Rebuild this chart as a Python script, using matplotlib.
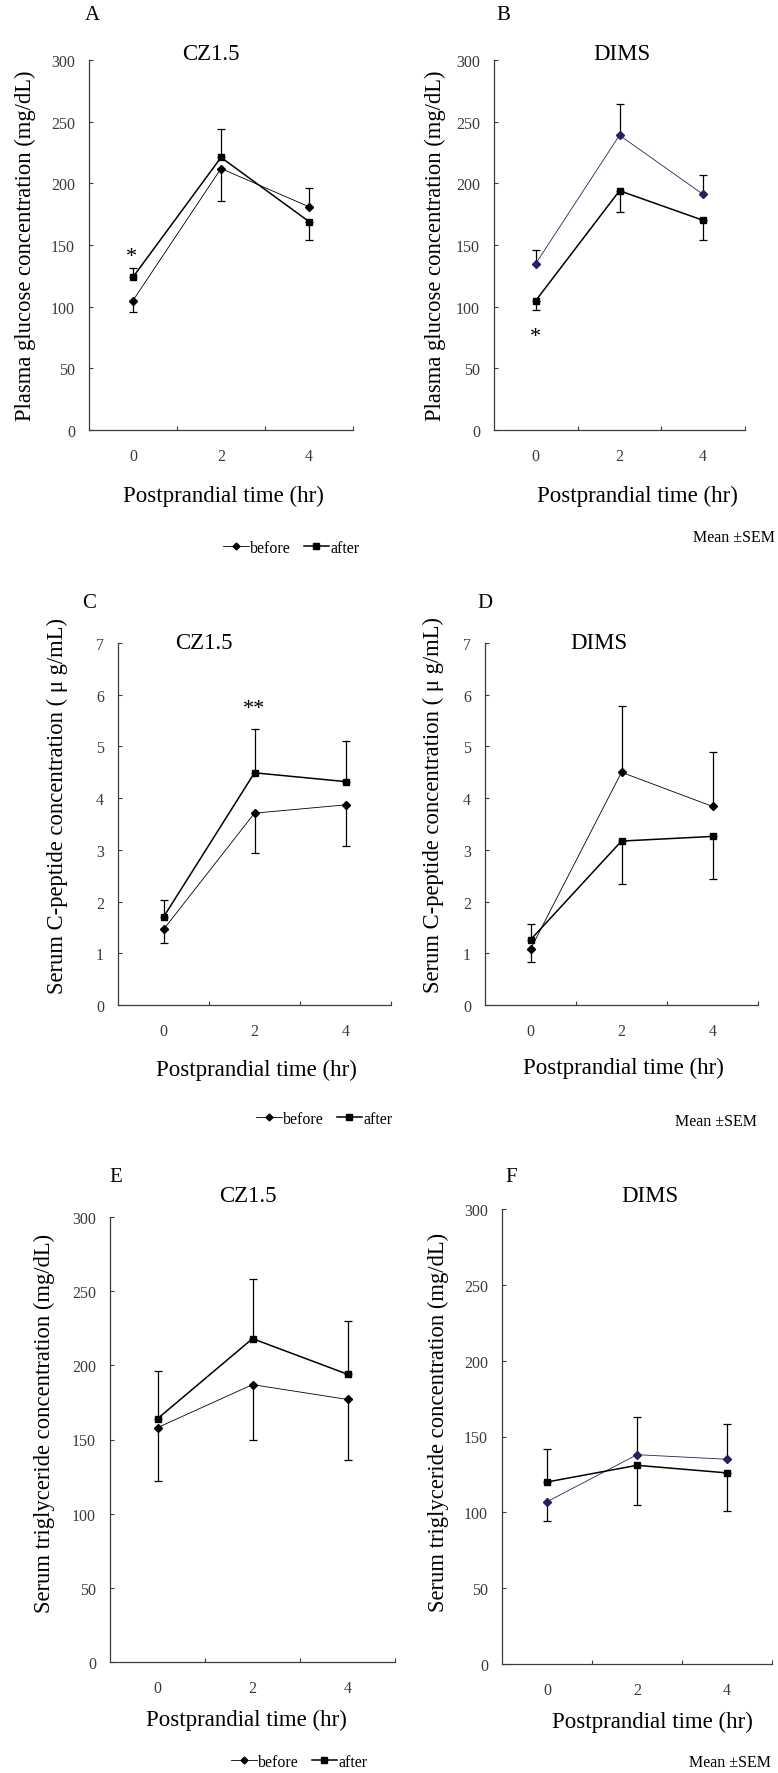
import numpy as np
import matplotlib
matplotlib.use("Agg")
import matplotlib.pyplot as plt
from matplotlib.lines import Line2D

plt.rcParams['font.family'] = ['Liberation Serif', 'DejaVu Serif']

W, H = 778, 1774

hours = ["0", "2", "4"]

# plasma glucose (mg/dL)
glu_cz_before = [105, 212, 181]
glu_cz_before_lo = [9, 26, 0]
glu_cz_before_up = [0, 0, 15]
glu_cz_after = [124, 221, 169]
glu_cz_after_lo = [0, 0, 15]
glu_cz_after_up = [7, 23, 0]

glu_dims_before = [135, 239, 191]
glu_dims_before_lo = [0, 0, 0]
glu_dims_before_up = [11, 25, 16]
glu_dims_after = [105, 194, 170]
glu_dims_after_lo = [8, 17, 16]
glu_dims_after_up = [0, 0, 0]

# serum C-peptide (ug/mL)
cpep_cz_before = [1.46, 3.71, 3.87]
cpep_cz_before_lo = [0.27, 0.78, 0.79]
cpep_cz_before_up = [0, 0, 0]
cpep_cz_after = [1.70, 4.49, 4.32]
cpep_cz_after_lo = [0, 0, 0]
cpep_cz_after_up = [0.33, 0.85, 0.78]

cpep_dims_before = [1.08, 4.50, 3.84]
cpep_dims_before_lo = [0.25, 0, 0]
cpep_dims_before_up = [0, 1.29, 1.06]
cpep_dims_after = [1.26, 3.17, 3.26]
cpep_dims_after_lo = [0, 0.83, 0.82]
cpep_dims_after_up = [0.31, 0, 0]

# serum triglyceride (mg/dL)
tg_cz_before = [158, 187, 177]
tg_cz_before_lo = [36, 37, 41]
tg_cz_before_up = [0, 0, 0]
tg_cz_after = [164, 218, 194]
tg_cz_after_lo = [0, 0, 0]
tg_cz_after_up = [32, 40, 36]

tg_dims_before = [107, 138, 135]
tg_dims_before_lo = [13, 0, 0]
tg_dims_before_up = [0, 25, 23]
tg_dims_after = [120, 131, 126]
tg_dims_after_lo = [0, 26, 25]
tg_dims_after_up = [22, 0, 0]

NAVY = "#23235e"
GREY = "#3a3a3a"


def fx(x):
    return x / W


def fy(y):
    return 1 - y / H


def make_axes(left, top, right, bottom):
    return fig.add_axes([fx(left), fy(bottom), (right - left) / W, (bottom - top) / H])


def draw_panel(ax, before, b_lo, b_up, after, a_lo, a_up, ymax, ystep, before_color):
    x = np.arange(len(hours))
    ax.errorbar(x, before, yerr=[b_lo, b_up], fmt='none', ecolor='black',
                elinewidth=0.9, capsize=3.2, capthick=0.9, zorder=2)
    ax.errorbar(x, after, yerr=[a_lo, a_up], fmt='none', ecolor='black',
                elinewidth=0.9, capsize=3.2, capthick=0.9, zorder=2)
    ax.plot(x, before, color=before_color, lw=0.6, marker='D', ms=4,
            mfc=before_color, mec=before_color, zorder=3)
    ax.plot(x, after, color='black', lw=1.1, marker='s', ms=5, zorder=3)

    ax.set_xlim(-0.5, 2.5)
    ax.set_ylim(0, ymax)
    ax.set_yticks(np.arange(0, ymax + ystep / 2, ystep))
    ax.set_xticks([0.5, 1.5, 2.5])
    ax.set_xticklabels([])
    ax.set_xticks(x, minor=True)
    ax.set_xticklabels(hours, minor=True)
    ax.tick_params(axis='x', which='major', direction='in', length=3, color=GREY)
    ax.tick_params(axis='x', which='minor', length=0, pad=13, labelsize=11.5, labelcolor=GREY)
    ax.tick_params(axis='y', direction='in', length=3, pad=10, labelsize=11.5,
                   labelcolor=GREY, color=GREY)
    for s in ['top', 'right']:
        ax.spines[s].set_visible(False)
    for s in ['left', 'bottom']:
        ax.spines[s].set_color(GREY)
        ax.spines[s].set_linewidth(0.9)


def legend_at(x0, y):
    h1 = Line2D([], [], color='black', lw=0.6, marker='D', ms=3.5)
    h2 = Line2D([], [], color='black', lw=1.1, marker='s', ms=4.5)
    fig.legend([h1, h2], ['before', 'after'], loc='center left',
               bbox_to_anchor=(fx(x0), fy(y)), ncol=2, frameon=False,
               fontsize=11.5, handlelength=1.6, handletextpad=0.1,
               columnspacing=0.8, borderaxespad=0, borderpad=0)


def label(x, y, s, size, **kw):
    fig.text(fx(x), fy(y), s, fontsize=size, ha='center', va='center', **kw)


fig = plt.figure(figsize=(W / 100, H / 100), dpi=100)

# row 1: glucose
axA = make_axes(89, 61, 353, 431)
draw_panel(axA, glu_cz_before, glu_cz_before_lo, glu_cz_before_up,
           glu_cz_after, glu_cz_after_lo, glu_cz_after_up, 300, 50, 'black')
axB = make_axes(494, 61, 745, 431)
draw_panel(axB, glu_dims_before, glu_dims_before_lo, glu_dims_before_up,
           glu_dims_after, glu_dims_after_lo, glu_dims_after_up, 300, 50, NAVY)

# row 2: C-peptide
axC = make_axes(118, 644, 391, 1006)
draw_panel(axC, cpep_cz_before, cpep_cz_before_lo, cpep_cz_before_up,
           cpep_cz_after, cpep_cz_after_lo, cpep_cz_after_up, 7, 1, 'black')
axD = make_axes(485, 644, 758, 1006)
draw_panel(axD, cpep_dims_before, cpep_dims_before_lo, cpep_dims_before_up,
           cpep_dims_after, cpep_dims_after_lo, cpep_dims_after_up, 7, 1, 'black')

# row 3: triglyceride
axE = make_axes(110, 1218, 395, 1663)
draw_panel(axE, tg_cz_before, tg_cz_before_lo, tg_cz_before_up,
           tg_cz_after, tg_cz_after_lo, tg_cz_after_up, 300, 50, 'black')
axF = make_axes(502, 1210, 772, 1665)
draw_panel(axF, tg_dims_before, tg_dims_before_lo, tg_dims_before_up,
           tg_dims_after, tg_dims_after_lo, tg_dims_after_up, 300, 50, NAVY)

# panel letters
for (x, y, s) in [(92, 16, 'A'), (503, 16, 'B'), (89, 604, 'C'),
                  (485, 604, 'D'), (116, 1178, 'E'), (511, 1178, 'F')]:
    label(x, y, s, 15)

# titles
for (x, y, s) in [(211, 55, 'CZ1.5'), (622, 55, 'DIMS'), (204, 644, 'CZ1.5'),
                  (599, 644, 'DIMS'), (248, 1197, 'CZ1.5'), (650, 1197, 'DIMS')]:
    label(x, y, s, 16.5)

# x labels
for (x, y) in [(223, 496), (637, 496), (256, 1070), (623, 1068), (246, 1720), (652, 1722)]:
    label(x, y, 'Postprandial time (hr)', 16.5)

# y labels
glu_lab = 'Plasma glucose concentration (mg/dL)'
cp_lab = 'Serum C-peptide concentration ( \u03bc g/mL)'
tg_lab = 'Serum triglyceride concentration (mg/dL)'
for (x, y, s) in [(25, 246, glu_lab), (435, 246, glu_lab), (57, 806, cp_lab),
                  (433, 805, cp_lab), (44, 1423, tg_lab), (438, 1422, tg_lab)]:
    label(x, y, s, 16.3, rotation=90)

# significance marks
label(131, 257, '*', 16)
label(535, 338, '*', 16)
label(254, 710, '**', 16)

# legends and footnotes
legend_at(223, 549)
legend_at(256, 1120)
legend_at(231, 1763)
for (x, y) in [(775, 538), (757, 1122), (771, 1763)]:
    fig.text(fx(x), fy(y), 'Mean \u00b1SEM', fontsize=11.5, ha='right', va='center')

fig.savefig('out.png', dpi=100)
